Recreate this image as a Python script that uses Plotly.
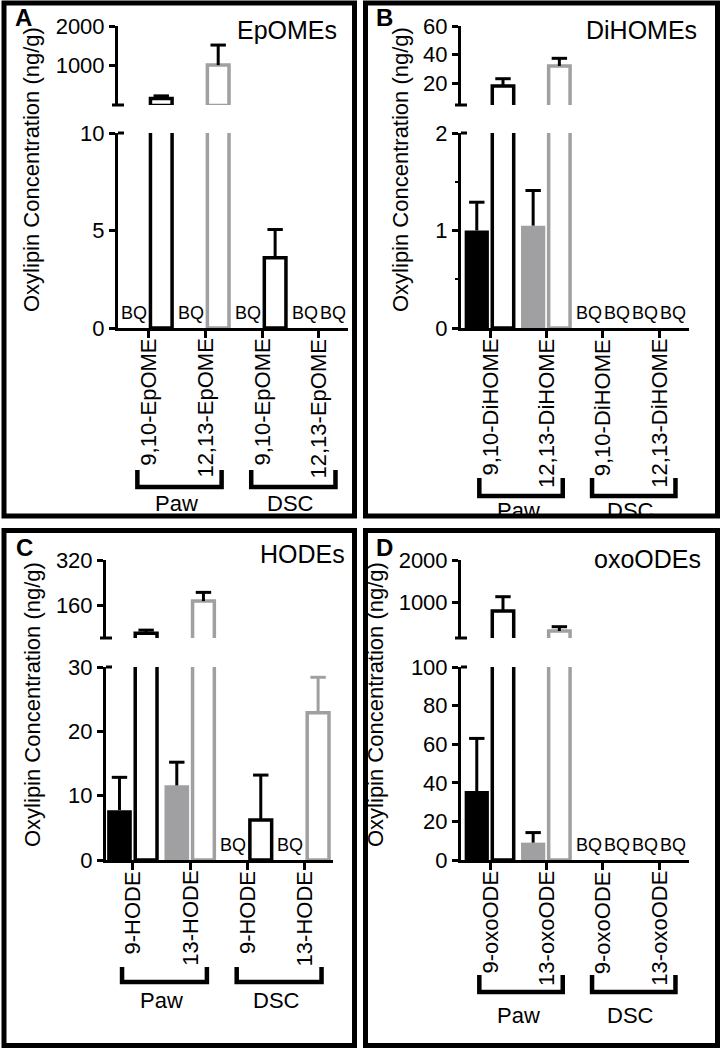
import plotly.graph_objects as go

W, H = 722, 1050
FONT = "Liberation Sans, Arial, Helvetica, sans-serif"
BLACK = "#000000"
GRAY = "#a0a0a2"

# ---------------- data (ng/g); None = below quantification (BQ) ----------------
tissues = ["Paw", "Paw", "DSC", "DSC"]

epome_labels = ["9,10-EpOME", "12,13-EpOME", "9,10-EpOME", "12,13-EpOME"]
epome_filled = [None, None, None, None]
epome_filled_err = [None, None, None, None]
epome_open = [175, 1015, 3.6, None]
epome_open_err = [65, 505, 1.45, None]
epome_lower_ticks = [0, 5, 10]
epome_upper_ticks = [1000, 2000]

dihome_labels = ["9,10-DiHOME", "12,13-DiHOME", "9,10-DiHOME", "12,13-DiHOME"]
dihome_filled = [1.0, 1.05, None, None]
dihome_filled_err = [0.29, 0.36, None, None]
dihome_open = [18.2, 32.2, None, None]
dihome_open_err = [5.1, 5.3, None, None]
dihome_lower_ticks = [0, 1, 2]
dihome_upper_ticks = [20, 40, 60]

hode_labels = ["9-HODE", "13-HODE", "9-HODE", "13-HODE"]
hode_filled = [7.75, 11.6, None, None]
hode_filled_err = [5.1, 3.6, None, None]
hode_open = [60, 174, 6.2, 22.9]
hode_open_err = [11, 31, 7.0, 5.5]
hode_lower_ticks = [0, 10, 20, 30]
hode_upper_ticks = [160, 320]

oxoode_labels = ["9-oxoODE", "13-oxoODE", "9-oxoODE", "13-oxoODE"]
oxoode_filled = [35.7, 9.0, None, None]
oxoode_filled_err = [27.3, 5.2, None, None]
oxoode_open = [786, 310, None, None]
oxoode_open_err = [340, 102, None, None]
oxoode_lower_ticks = [0, 20, 40, 60, 80, 100]
oxoode_upper_ticks = [1000, 2000]

# ---------------- layout geometry (pixels) ----------------
panels = [
    dict(letter="A", title="EpOMEs", labels=epome_labels,
         filled=epome_filled, filled_err=epome_filled_err,
         opn=epome_open, opn_err=epome_open_err,
         lower_ticks=epome_lower_ticks, upper_ticks=epome_upper_ticks, upper_lo=10,
         minor=None,
         box=(4, 3, 354.5, 516), px=(118, 348), lower=(328, 133), upper=(105, 26),
         xr=(-0.53, 3.51), title_pos=(339, 30), letter_pos=(13, 18),
         ytitle_pos=(32, 170), bracket=(470, 487), group_text_y=503),
    dict(letter="B", title="DiHOMEs", labels=dihome_labels,
         filled=dihome_filled, filled_err=dihome_filled_err,
         opn=dihome_open, opn_err=dihome_open_err,
         lower_ticks=dihome_lower_ticks, upper_ticks=dihome_upper_ticks, upper_lo=5,
         minor=[0.5, 1.5],
         box=(365.5, 3, 717.5, 516), px=(461, 689), lower=(328, 133), upper=(105, 26),
         xr=(-0.515, 3.53), title_pos=(699, 30), letter_pos=(374, 18),
         ytitle_pos=(401, 170), bracket=(478, 496), group_text_y=510),
    dict(letter="C", title="HODEs", labels=hode_labels,
         filled=hode_filled, filled_err=hode_filled_err,
         opn=hode_open, opn_err=hode_open_err,
         lower_ticks=hode_lower_ticks, upper_ticks=hode_upper_ticks, upper_lo=43,
         minor=None,
         box=(4, 530.5, 354.5, 1045.5), px=(106, 333), lower=(860, 667), upper=(638, 560),
         xr=(-0.47, 3.49), title_pos=(347, 554), letter_pos=(14, 547),
         ytitle_pos=(32, 705), bracket=(967, 982), group_text_y=1000),
    dict(letter="D", title="oxoODEs", labels=oxoode_labels,
         filled=oxoode_filled, filled_err=oxoode_filled_err,
         opn=oxoode_open, opn_err=oxoode_open_err,
         lower_ticks=oxoode_lower_ticks, upper_ticks=oxoode_upper_ticks, upper_lo=143,
         minor=None,
         box=(365.5, 530.5, 717.5, 1045.5), px=(461, 689), lower=(860, 667), upper=(638, 560),
         xr=(-0.515, 3.53), title_pos=(703, 559), letter_pos=(374, 547),
         ytitle_pos=(375, 705), bracket=(975, 992), group_text_y=1015),
]

FILLED_OFFSET, FILLED_WIDTH = -0.45, 0.43
OPEN_OFFSET, OPEN_WIDTH = 0.04, 0.38


def fx(px):
    return px / W


def fy(py):
    return 1 - py / H


def aname(letter, n):
    return letter if n == 1 else f"{letter}{n}"


def lkey(letter, n):
    return f"{letter}axis" if n == 1 else f"{letter}axis{n}"


fig = go.Figure()
layout = dict(width=W, height=H, margin=dict(l=0, r=0, t=0, b=0, pad=0, autoexpand=False),
              autosize=False,
              paper_bgcolor="white", plot_bgcolor="rgba(0,0,0,0)",
              barmode="overlay", showlegend=False,
              font=dict(family=FONT, size=22, color=BLACK))
shapes = []
annotations = []


def add_bar(xa, ya, i, v, e, offset, width, fill, line_col, line_w, ecol):
    center = i + offset + width / 2
    fig.add_trace(go.Bar(
        x=[i], y=[v], xaxis=xa, yaxis=ya, offset=offset, width=width,
        marker=dict(color=fill, line=dict(width=line_w, color=line_col)),
        error_y=dict(type="data", array=[e], arrayminus=[0], symmetric=False,
                     color=ecol, thickness=3, width=0),
        hoverinfo="skip"))
    # error-bar cap
    fig.add_trace(go.Scatter(
        x=[center], y=[v + e], xaxis=xa, yaxis=ya, mode="markers",
        marker=dict(symbol="line-ew", size=11, line=dict(width=3, color=ecol)),
        hoverinfo="skip"))


def bq_label(xref, yref, xpos, shift):
    return dict(x=xpos, y=0, xref=xref, yref=yref, text="BQ", showarrow=False,
                yanchor="bottom", xanchor="center", xshift=shift, yshift=4, borderpad=0,
                font=dict(size=18, family=FONT, color=BLACK))


for p, P in enumerate(panels):
    nl, nu = p + 1, p + 5
    xl, xu = aname("x", nl), aname("x", nu)
    yl, yu = aname("y", nl), aname("y", nu)
    top_lower = P["lower_ticks"][-1]
    top_upper = P["upper_ticks"][-1]

    def segments(v):
        segs = [(xl, yl)]
        if v > P["upper_lo"]:
            segs.append((xu, yu))
        return segs

    for i in range(4):
        col = BLACK if i % 2 == 0 else GRAY
        # filled bar
        v, e = P["filled"][i], P["filled_err"][i]
        if v is None:
            annotations.append(bq_label(xl, yl, i + FILLED_OFFSET + FILLED_WIDTH / 2, -1))
        else:
            for xa, ya in segments(v):
                add_bar(xa, ya, i, v, e, FILLED_OFFSET, FILLED_WIDTH, col, col, 0, BLACK)
        # open bar
        v, e = P["opn"][i], P["opn_err"][i]
        if v is None:
            annotations.append(bq_label(xl, yl, i + OPEN_OFFSET + OPEN_WIDTH / 2, 1))
        else:
            ecol = BLACK if tissues[i] == "Paw" else col
            for xa, ya in segments(v):
                add_bar(xa, ya, i, v, e, OPEN_OFFSET, OPEN_WIDTH, "white", col, 3.5, ecol)

    xdom = [fx(P["px"][0]), fx(P["px"][1])]
    axis_common = dict(showgrid=False, zeroline=False, showline=True, linewidth=3,
                       linecolor=BLACK, ticks="outside", tickwidth=3, tickcolor=BLACK,
                       automargin=False,
                       tickfont=dict(size=22, family=FONT, color=BLACK))
    layout[lkey("x", nl)] = dict(domain=xdom, range=list(P["xr"]), anchor=yl,
                                 tickmode="array", tickvals=[0, 1, 2, 3], showticklabels=False,
                                 ticklen=7, **axis_common)
    layout[lkey("x", nu)] = dict(domain=xdom, range=list(P["xr"]), anchor=yu, matches=xl,
                                 visible=False)
    ylow = dict(domain=[fy(P["lower"][0]), fy(P["lower"][1])], range=[0, top_lower], anchor=xl,
                tickmode="array", tickvals=P["lower_ticks"], ticklen=6, **axis_common)
    if P["minor"]:
        ylow["minor"] = dict(tickmode="array", tickvals=P["minor"], ticks="outside",
                             ticklen=3, tickwidth=2, tickcolor=BLACK)
    layout[lkey("y", nl)] = ylow
    layout[lkey("y", nu)] = dict(domain=[fy(P["upper"][0]), fy(P["upper"][1])],
                                 range=[P["upper_lo"], top_upper], anchor=xu,
                                 tickmode="array", tickvals=P["upper_ticks"], ticklen=6,
                                 **axis_common)

    # category labels (rotated, under the x axis)
    for i, lab in enumerate(P["labels"]):
        annotations.append(dict(x=i, y=fy(P["lower"][0] + 9), xref=xl, yref="paper",
                                text=lab, showarrow=False, textangle=-90,
                                xanchor="center", yanchor="top",
                                font=dict(size=22, family=FONT, color=BLACK)))

    # axis-break tick marks
    ax_x = P["px"][0]
    shapes.append(dict(type="line", xref="paper", yref="paper",
                       x0=fx(ax_x - 6), x1=fx(ax_x + 6), y0=fy(P["upper"][0]), y1=fy(P["upper"][0]),
                       line=dict(color=BLACK, width=3)))
    shapes.append(dict(type="line", xref="paper", yref="paper",
                       x0=fx(ax_x), x1=fx(ax_x + 6), y0=fy(P["lower"][1]), y1=fy(P["lower"][1]),
                       line=dict(color=BLACK, width=3)))

    # group brackets + labels
    btop, bbot = P["bracket"]
    for g, name in ((0, "Paw"), (2, "DSC")):
        x0, x1 = g - 0.19, g + 1.29
        shapes.append(dict(type="path", xref=xl, yref="paper",
                           path=f"M {x0},{fy(btop)} L {x0},{fy(bbot)} L {x1},{fy(bbot)} L {x1},{fy(btop)}",
                           line=dict(color=BLACK, width=4.5)))
        annotations.append(dict(x=g + 0.5, y=fy(P["group_text_y"]), xref=xl, yref="paper",
                                text=name, showarrow=False, xanchor="center", yanchor="middle",
                                font=dict(size=22, family=FONT, color=BLACK)))

    # panel border
    bx0, by0, bx1, by1 = P["box"]
    shapes.append(dict(type="rect", xref="paper", yref="paper", x0=fx(bx0), x1=fx(bx1),
                       y0=fy(by1), y1=fy(by0), line=dict(color=BLACK, width=5)))

    # texts
    annotations.append(dict(x=fx(P["title_pos"][0]), y=fy(P["title_pos"][1]), xref="paper",
                            yref="paper", text=P["title"], showarrow=False, xanchor="right",
                            yanchor="middle", font=dict(size=25, family=FONT, color=BLACK)))
    annotations.append(dict(x=fx(P["letter_pos"][0]), y=fy(P["letter_pos"][1]), xref="paper",
                            yref="paper", text=f"<b>{P['letter']}</b>", showarrow=False,
                            xanchor="left", yanchor="middle",
                            font=dict(size=24, family=FONT, color=BLACK)))
    annotations.append(dict(x=fx(P["ytitle_pos"][0]), y=fy(P["ytitle_pos"][1]), xref="paper",
                            yref="paper", text="Oxylipin Concentration (ng/g)", showarrow=False,
                            textangle=-90, xanchor="center", yanchor="middle",
                            font=dict(size=22, family=FONT, color=BLACK)))

layout["shapes"] = shapes
layout["annotations"] = annotations
fig.update_layout(**layout)
fig.write_html("out.html", config={"displayModeBar": False},
               post_script="document.body.style.margin='0';document.body.style.overflow='hidden';")
